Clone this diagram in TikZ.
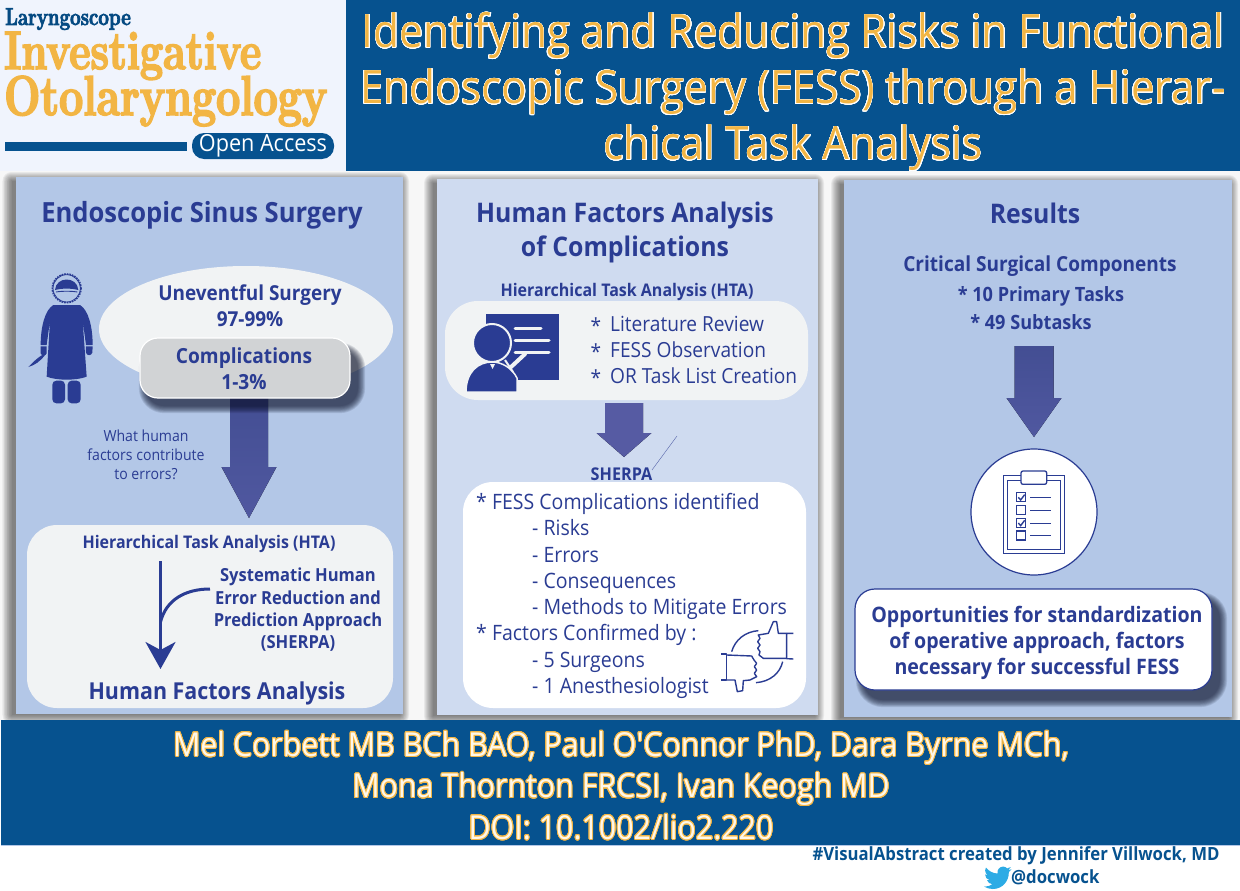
\documentclass[tikz,border=0pt]{standalone}
\usepackage{fontspec}
\usepackage[copies]{contour}
\usetikzlibrary{arrows.meta,shapes.geometric}
\newfontfamily\sansf{Open Sans}[FakeStretch=0.92]
\newfontfamily\logof{Latin Modern Roman}[FakeStretch=0.765,FakeBold=3]
\definecolor{ink}{HTML}{2A3C93}
\definecolor{navy}{HTML}{06528F}
\definecolor{gold}{HTML}{F2B544}
\definecolor{pale}{HTML}{FDF8EC}
\definecolor{pone}{HTML}{B3C7E7}
\definecolor{ptwo}{HTML}{CFDBF0}
\definecolor{soft}{HTML}{F1F3F4}
\definecolor{logobg}{HTML}{F0F4FD}
\definecolor{greybox}{HTML}{D1D3D5}
\definecolor{birdc}{HTML}{2CABE5}
\definecolor{arrowa}{HTML}{434E93}
\definecolor{arrowb}{HTML}{5058A0}
\definecolor{arrowc}{HTML}{565BA3}
\definecolor{larycol}{HTML}{054A82}
\newcommand{\fs}[2]{\fontsize{#1}{#2}\selectfont}
\newcommand{\softshadow}[8]{% x1 y1 x2 y2 radius colour spread opacity
  \foreach \i in {1,...,10}{
    \pgfmathsetmacro{\sp}{#7*(1-\i/10)}
    \fill[#6,opacity=#8,rounded corners=#5+\sp*1pt]
      (#1-\sp,#2-\sp) rectangle (#3+\sp,#4+\sp);
  }}
\newcommand{\blockarrow}[8]{% cx top headtop tip shaftw headw topcol botcol
  \fill[top color=#7,bottom color=#8]
   (#1-#5/2,#2) -- (#1+#5/2,#2) -- (#1+#5/2,#3) -- (#1+#6/2,#3) -- (#1,#4)
   -- (#1-#6/2,#3) -- (#1-#5/2,#3) -- cycle;}
\contournumber{24}
\tikzset{
  x=1pt,y=-1pt,
  txt/.style={inner sep=0pt,text=ink,align=center,font=\sansf},
  panelone/.style={fill=pone,draw=none},
  paneltwo/.style={fill=ptwo,draw=none},
  iconline/.style={draw=ink,line width=1.4pt,fill=none,line join=round}
}
\begin{document}
\begin{tikzpicture}
\useasboundingbox (0,0) rectangle (1240,891);
\fill[white] (0,0) rectangle (1240,891);
\fill[black!3] (0,171) rectangle (1240,720);
% panels' shadows
\softshadow{11.5}{181}{400}{715}{0}{black}{10}{0.06}
\softshadow{433}{183}{815}{716}{0}{black}{10}{0.06}
\softshadow{840}{184}{1229}{718}{0}{black}{10}{0.06}
% header
\fill[logobg] (0,0) rectangle (346,171);
\fill[navy] (346,0) rectangle (1240,171);
\node[inner sep=0,anchor=base west,text=larycol,font=\logof\bfseries\fs{24.5}{24.5}] (lary) at (5,25) {Laryngoscope};
\node[inner sep=0,anchor=base west,text=gold,font=\logof\bfseries\fs{54}{54}] (inv) at (4,69) {Investigative};
\node[inner sep=0,anchor=base west,text=gold,font=\logof\bfseries\fs{56}{56}] (oto) at (4,115) {Otolaryngology};
\fill[navy] (5,142) rectangle (187,151);
\node[fill=navy,rounded corners=12pt,minimum width=142pt,minimum height=26pt,inner sep=0,text=white,font=\sansf\fs{23.5}{24}] (oa) at (263,146) {Open Access};
\contourlength{0.5pt}
\node[txt,text=gold,font=\sansf\fs{46}{56},align=center] (title) at (793,92) {%
  \contour{white}{Identifying and Reducing Risks in Functional}\\
  \contour{white}{Endoscopic Surgery (FESS) through a Hierar-}\\
  \contour{white}{chical Task Analysis}};
\fill[panelone] (15.5,177) rectangle (403,714);
\fill[paneltwo] (437,179) rectangle (818,715);
\fill[panelone] (844,180) rectangle (1232,717);
% footer
\fill[navy] (1,720) rectangle (1240,845);
\fill[pone] (1,845) rectangle (1240,846);
\contourlength{0.9pt}
\node[txt,text=pale,font=\sansf\fs{33}{41.5},align=center] (authors) at (621,786) {%
  \contour{gold}{Mel Corbett MB BCh BAO, Paul O'Connor PhD, Dara Byrne MCh,}\\
  \contour{gold}{Mona Thornton FRCSI, Ivan Keogh MD}\\
  \contour{gold}{DOI: 10.1002/lio2.220}};
\node[txt,text=navy,font=\sansf\bfseries\fs{18.2}{20}] (credit) at (1016,856) {\#VisualAbstract created by Jennifer Villwock, MD};
\node[txt,text=navy,font=\sansf\bfseries\fs{18.2}{20},anchor=west] (handle) at (1011,877) {@docwock};
\begin{scope}[shift={(984,864)},scale=1.15]
\fill[birdc] (23.95,4.57) .. controls (23.05,4.97) and (22.1,5.23) .. (21.13,5.35)
 .. controls (22.15,4.73) and (22.9,3.77) .. (23.29,2.62)
 .. controls (22.34,3.18) and (21.29,3.58) .. (20.16,3.81)
 .. controls (19.25,2.84) and (17.97,2.25) .. (16.57,2.25)
 .. controls (13.5,2.25) and (11.1,5.3) .. (11.78,8.29)
 .. controls (7.69,8.095) and (4.067,6.13) .. (1.64,3.162)
 .. controls (1.22,3.88) and (.974,4.73) .. (.974,5.637)
 .. controls (.974,7.347) and (1.844,8.85) .. (3.162,9.733)
 .. controls (2.36,9.71) and (1.6,9.49) .. (.934,9.117)
 -- (.934,9.177)
 .. controls (.934,11.56) and (2.63,13.55) .. (4.88,14.004)
 .. controls (4.18,14.19) and (3.42,14.22) .. (2.668,14.089)
 .. controls (3.3,16.05) and (5.12,17.47) .. (7.272,17.506)
 .. controls (5.58,18.83) and (3.46,19.611) .. (1.17,19.611)
 .. controls (.78,19.611) and (.391,19.588) .. (0,19.544)
 .. controls (2.19,20.95) and (4.79,21.753) .. (7.557,21.753)
 .. controls (16.61,21.753) and (21.555,14.257) .. (21.555,7.768)
 .. controls (21.555,7.558) and (21.555,7.348) .. (21.54,7.138)
 .. controls (22.5,6.45) and (23.34,5.58) .. (24,4.59) -- cycle;
\end{scope}
% ---------- panel 1
\node[txt,font=\sansf\bfseries\fs{27.8}{30}] (h1) at (202,215) {Endoscopic Sinus Surgery};
% surgeon
\begin{scope}[shift={(20,260)},scale=1/3]
\draw[ink,line width=1.6pt,densely dotted] (140,85) circle (43);
\draw[ink,line width=0.8pt] (140,85) circle (41);
\fill[ink] (105,90) .. controls (108,48) and (172,48) .. (175,90) .. controls (150,84) and (130,84) .. (105,90) -- cycle;
\draw[ink,line width=0.9pt] (108,96) .. controls (125,93) and (155,93) .. (172,96);
\fill[ink] (100,135) -- (180,135) .. controls (205,150) and (218,200) .. (218,255)
 -- (198,255) -- (188,182) -- (200,350) .. controls (170,362) and (110,362) .. (80,350)
 -- (90,182) -- (80,255) -- (62,255) .. controls (62,200) and (75,150) .. (100,135) -- cycle;
\fill[ink] (62,259) -- (80,259) -- (80,280) .. controls (78,288) and (64,288) .. (62,280) -- cycle;
\fill[ink] (198,259) -- (218,259) -- (217,278) .. controls (214,288) and (200,288) .. (198,278) -- cycle;
\fill[ink,rounded corners=4pt] (97,362) rectangle (135,430);
\fill[ink,rounded corners=4pt] (143,362) rectangle (182,430);
\fill[ink] (76,284) .. controls (60,305) and (45,315) .. (25,321) .. controls (45,300) and (55,292) .. (70,283) -- cycle;
\end{scope}
\fill[soft] (246,329) ellipse [x radius=147,y radius=63];
\node[txt,font=\sansf\bfseries\fs{20.6}{26},align=center] (unev) at (250,306) {Uneventful Surgery\\97-99\%};
\blockarrow{249}{395}{467}{518}{38}{55}{arrowa}{arrowb}
\softshadow{146}{350}{358}{406}{18}{black!70!ink}{8}{0.1}
\node[draw=white,line width=1.2pt,fill=greybox,rounded corners=18pt,minimum width=210pt,minimum height=60pt,inner sep=0] (comp) at (245,368) {};
\node[txt,font=\sansf\bfseries\fs{20.8}{26},align=center] (comptxt) at (244,369) {Complications\\1-3\%};
\node[txt,font=\sansf\fs{15.3}{19},align=center] (what) at (146,455) {What human\\factors contribute\\to errors?};
\fill[soft,rounded corners=30pt] (27,525) rectangle (393,708);
\node[txt,font=\sansf\bfseries\fs{17.4}{20}] (hta1) at (209,544) {Hierarchical Task Analysis (HTA)};
\node[txt,font=\sansf\bfseries\fs{18}{22.3},align=center] (sherpa1) at (298,610) {Systematic Human\\Error Reduction and\\Prediction Approach\\(SHERPA)};
\node[txt,font=\sansf\bfseries\fs{23.3}{26}] (hfa1) at (217,693) {Human Factors Analysis};
\coordinate (astart) at (160.5,561);
\coordinate (aend) at (160.5,669);
\coordinate (bstart) at (210,589);
\coordinate (bend) at (160.5,622);
\draw[ink,line width=3pt,-{Stealth[length=27pt,width=30pt,inset=8pt]}] (astart) -- (aend);
\draw[ink,line width=3pt] (bstart) .. controls (185,589) and (166,600) .. (bend);
% ---------- panel 2
\node[txt,font=\sansf\bfseries\fs{27}{34},align=center] (h2) at (625,232) {Human Factors Analysis\\of Complications};
\node[txt,font=\sansf\bfseries\fs{17.4}{20}] (hta2) at (627,291.5) {Hierarchical Task Analysis (HTA)};
\fill[soft,rounded corners=33pt] (445,301) rectangle (808,400);
% presenter
\fill[ink] (486,314) rectangle (559,380);
\fill[ink,draw=soft,line width=2pt] (492,343) circle (19);
\fill[ink,draw=soft,line width=1.5pt] (466,392) .. controls (466,372) and (478,362) .. (492,362)
 .. controls (502,362) and (512,368) .. (517,378) -- (517,392) -- cycle;
\draw[soft,line width=3pt,line cap=round] (515,328) -- (541,328) (515,340) -- (549,340) (515,352) -- (549,352);
\draw[soft,line width=4pt,line cap=round] (511,367) -- (525,354);
\draw[soft,line width=2pt] (505,360) -- (513,372);
\fill[soft] (490,364) -- (495,364) -- (492.5,369) -- cycle;
\node[txt,font=\sansf\fs{20.8}{26},anchor=west,align=left] (lit) at (610,350) {Literature Review\\FESS Observation\\OR Task List Creation};
\node[txt,font=\sansf\fs{20.8}{26},anchor=center,align=center] (stars) at (596,352) {*\\*\\*};
\blockarrow{624}{403}{433}{457}{38}{55}{arrowc}{arrowc}
\coordinate (tla) at (677,436);
\coordinate (tlb) at (652,470);
\draw[ink!80!white,line width=0.4pt] (tla) -- (tlb);
\node[txt,font=\sansf\bfseries\fs{17.6}{20}] (sh2) at (621.5,474.5) {SHERPA};
\fill[white,rounded corners=30pt] (463,482) rectangle (806,708);
\node[txt,font=\sansf\fs{21.2}{26.3},anchor=north west,align=left] (list) at (476,493) {%
 * FESS Complications identified\\
 \hspace*{56pt}- Risks\\
 \hspace*{56pt}- Errors\\
 \hspace*{56pt}- Consequences\\
 \hspace*{56pt}- Methods to Mitigate Errors\\
 * Factors Confirmed by :\\
 \hspace*{56pt}- 5 Surgeons\\
 \hspace*{56pt}- 1 Anesthesiologist};
% thumbs
\begin{scope}[shift={(440,470)},scale=1/3]
\draw[iconline] (1060,490) -- (1040,490) -- (1040,566) -- (1060,567);
\draw[iconline] (1040,490) -- (1015,490) -- (1010,455) -- (1000,455) -- (985,490) -- (955,495)
  -- (960,505) -- (953,515) -- (960,525) -- (953,535) -- (960,545) -- (957,555) -- (970,565) -- (1040,565);
\draw[iconline] (843,552) -- (860,552) -- (860,630) -- (843,630);
\draw[iconline] (860,555) -- (935,558) -- (942,570) -- (950,580) -- (943,590) -- (950,600) -- (943,610) -- (950,620) -- (930,630)
  -- (910,632) -- (908,662) -- (892,665) -- (885,630) -- (860,630);
\draw[iconline] (875,545) .. controls (885,510) and (915,485) .. (955,482);
\draw[iconline] (948,638) .. controls (990,635) and (1020,610) .. (1028,575);
\end{scope}
% ---------- panel 3
\node[txt,font=\sansf\bfseries\fs{27}{30}] (h3) at (1035,213) {Results};
\node[txt,font=\sansf\bfseries\fs{20.7}{24}] (crit) at (1040,266) {Critical Surgical Components};
\node[txt,font=\sansf\bfseries\fs{19.7}{24}] (ten) at (1041,296) {* 10 Primary Tasks};
\node[txt,font=\sansf\bfseries\fs{19.7}{24}] (fortynine) at (1031,322) {* 49 Subtasks};
\blockarrow{1034}{346}{398}{437}{39}{55}{arrowa}{arrowb}
\node[circle,draw=ink,line width=1.2pt,fill=white,minimum size=126pt,inner sep=0] (circ) at (1034,512) {};
\begin{scope}[shift={(830,420)},scale=1/3]
\draw[ink,line width=1.5pt] (520,167) rectangle (703,400);
\draw[ink,line width=1pt] (533,180) rectangle (690,388);
\draw[ink,line width=1.3pt,fill=white,rounded corners=2pt] (573,153) rectangle (650,193);
\foreach \yy in {218,257,295,333}{
  \draw[ink,line width=1.2pt] (560,\yy) rectangle (587,\yy+27);
  \draw[ink,line width=1pt] (600,\yy+14) -- (662,\yy+14);
}
\draw[ink,line width=1.4pt] (565,232) -- (572,240) -- (584,224);
\draw[ink,line width=1.4pt] (565,309) -- (572,317) -- (584,301);
\end{scope}
\softshadow{863}{599}{1220}{700}{20}{black!70!ink}{8}{0.1}
\node[draw=ink,line width=1.2pt,fill=white,rounded corners=20pt,minimum width=357pt,minimum height=101pt,inner sep=0] (opp) at (1033.5,639.5) {};
\node[txt,font=\sansf\bfseries\fs{21.3}{26},align=center] (opptxt) at (1037,643) {Opportunities for standardization\\of operative approach, factors\\necessary for successful FESS};
\end{tikzpicture}
\end{document}
